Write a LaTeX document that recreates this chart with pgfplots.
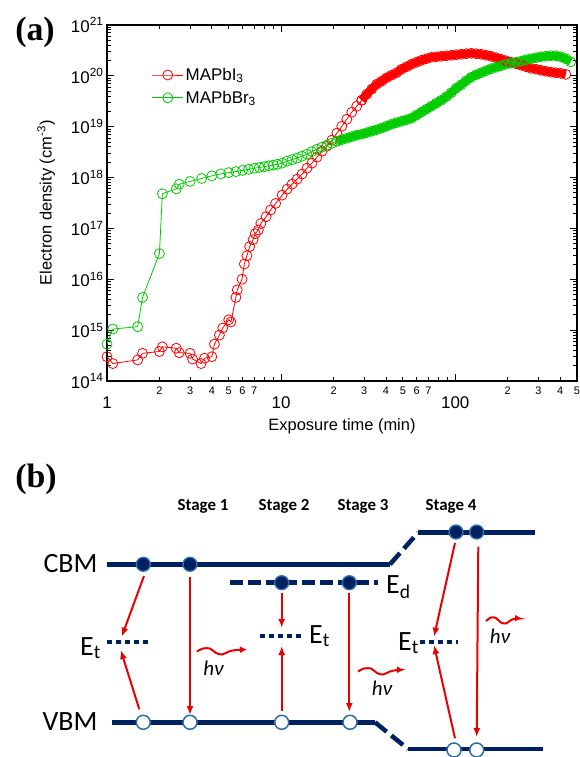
\documentclass[border=0pt]{standalone}
\usepackage{fontspec}
\setmainfont{Liberation Sans}
\newfontfamily\calibri{Carlito}
\newfontfamily\timesf{Liberation Serif}
\usepackage{pgfplots}
\pgfplotsset{compat=1.18}
\usetikzlibrary{arrows.meta}
\definecolor{navy}{RGB}{0,32,96}
\definecolor{cblue}{RGB}{46,117,182}
\definecolor{ored}{RGB}{40,110,170}
\definecolor{arred}{RGB}{235,0,0}
\definecolor{rd}{RGB}{255,0,0}
\definecolor{gr}{RGB}{0,204,0}
\begin{document}
\begin{tikzpicture}
% ---------------- panel (b) and panel labels ----------------
\begin{axis}[at={(0,0)},anchor=south west,scale only axis,width=580bp,height=757bp,
  xmin=0,xmax=580,ymin=0,ymax=757,y dir=reverse,hide axis,clip=false]
\node[font=\timesf\bfseries\fontsize{34}{34}\selectfont] at (axis cs:35,32) {(a)};
\node[font=\timesf\bfseries\fontsize{34}{34}\selectfont] at (axis cs:36,479) {(b)};
% stage labels
\foreach \xx/\lab in {203/1,284/2,363/3,451/4}{
  \edef\tmp{\noexpand\node[font=\noexpand\calibri\noexpand\bfseries\noexpand\fontsize{17}{17}\noexpand\selectfont,anchor=base] at (axis cs:\xx,510) {Stage \lab};}\tmp}
% band lines
\addplot[navy,line width=4.5bp] coordinates {(107,564.3) (390,564.3)};
\addplot[navy,line width=4.5bp,dash pattern=on 15bp off 6bp] coordinates {(390,564.3) (418,532.7)};
\addplot[navy,line width=4.5bp] coordinates {(418,532.7) (535,532.7)};
\addplot[navy,line width=4.5bp] coordinates {(112,722.3) (375,722.3)};
\addplot[navy,line width=4.5bp,dash pattern=on 15bp off 6bp] coordinates {(375,722.3) (408,749)};
\addplot[navy,line width=4.5bp] coordinates {(408,749) (543,749)};
\addplot[navy,line width=4.5bp,dash pattern=on 13bp off 5bp] coordinates {(230,582.7) (378,582.7)};
% trap levels
\addplot[navy,line width=4bp,dash pattern=on 4.5bp off 4.5bp] coordinates {(107,641.7) (152,641.7)};
\addplot[navy,line width=4bp,dash pattern=on 4.5bp off 4.5bp] coordinates {(260,635.7) (302,635.7)};
\addplot[navy,line width=4bp,dash pattern=on 4.5bp off 4.5bp] coordinates {(420,641.7) (458,641.7)};
% labels
\node[font=\calibri\fontsize{28}{28}\selectfont,anchor=east] at (axis cs:101,564) {CBM};
\node[font=\calibri\fontsize{28}{28}\selectfont,anchor=east] at (axis cs:101,722) {VBM};
\node[font=\calibri\fontsize{28}{28}\selectfont,anchor=base east,inner sep=0pt] at (axis cs:101,655) {E\textsubscript{t}};
\node[font=\calibri\fontsize{28}{28}\selectfont,anchor=base west,inner sep=0pt] at (axis cs:309,643) {E\textsubscript{t}};
\node[font=\calibri\fontsize{28}{28}\selectfont,anchor=base east,inner sep=0pt] at (axis cs:419,650) {E\textsubscript{t}};
\node[font=\calibri\fontsize{28}{28}\selectfont,anchor=base west,inner sep=0pt] at (axis cs:386,593) {E\textsubscript{d}};
\node[font=\calibri\itshape\fontsize{21}{21}\selectfont,anchor=base] at (axis cs:213.5,675) {hν};
\node[font=\calibri\itshape\fontsize{21}{21}\selectfont,anchor=base] at (axis cs:382,695) {hν};
\node[font=\calibri\itshape\fontsize{21}{21}\selectfont,anchor=base] at (axis cs:500,643) {hν};
% red transition arrows
\addplot[arred,line width=2bp,-{Latex[length=9bp,width=7bp]}] coordinates {(144,576) (121.7,636.7)};
\addplot[arred,line width=2bp,-{Latex[length=9bp,width=7bp]}] coordinates {(139.3,709.3) (120.7,650)};
\addplot[arred,line width=2bp,-{Latex[length=9bp,width=7bp]}] coordinates {(190,576.7) (190,715)};
\addplot[arred,line width=2bp,-{Latex[length=9bp,width=7bp]}] coordinates {(281.7,593) (281.7,628)};
\addplot[arred,line width=2bp,-{Latex[length=9bp,width=7bp]}] coordinates {(281.7,710.7) (281.7,646)};
\addplot[arred,line width=2bp,-{Latex[length=9bp,width=7bp]}] coordinates {(349.3,593.3) (349.3,712)};
\addplot[arred,line width=2bp,-{Latex[length=9bp,width=7bp]}] coordinates {(455,543) (434,636.7)};
\addplot[arred,line width=2bp,-{Latex[length=9bp,width=7bp]}] coordinates {(455,738.3) (434,645)};
\addplot[arred,line width=2bp,-{Latex[length=9bp,width=7bp]}] coordinates {(478.3,546.7) (476.7,737)};
% photon squiggles
\addplot[arred,line width=2bp,smooth,-{Latex[length=7bp,width=7bp]}] coordinates {(197,651.5) (203,648.5) (210,648.5) (216,653) (222,654.5) (229,651.5) (236,650) (247,649.5)};
\addplot[arred,line width=2bp,smooth,-{Latex[length=7bp,width=7bp]}] coordinates {(358,671.5) (364,668.5) (371,668.5) (377,673) (383,674.5) (390,671.5) (397,670) (404,670)};
\addplot[arred,line width=2bp,smooth,-{Latex[length=7bp,width=7bp]}] coordinates {(486,621) (491,617.5) (496,618) (501,622.5) (506,623.5) (511,620) (516,618.5) (522,618.5)};
% carriers
\addplot[only marks,mark=*,mark size=7bp,mark options={fill=navy,draw=cblue,line width=1.3bp}] coordinates {(143.3,564.3) (190,564.3) (281.7,582.7) (349.3,582.7) (456,532) (476.7,532)};
\addplot[only marks,mark=*,mark size=7bp,mark options={fill=white,draw=ored,line width=1.5bp}] coordinates {(143.3,722.3) (190,722.3) (281.7,722.3) (350,722.3) (454,750) (476.7,750)};
\end{axis}
% ---------------- panel (a) ----------------
\begin{axis}[at={(107bp,376bp)},anchor=south west,scale only axis,width=470bp,height=356bp,
  xmode=log,ymode=log,xmin=1,xmax=500,ymin=1e14,ymax=1e21,
  axis line style={line width=1.2bp},
  every tick/.style={black,line width=0.9bp},
  major tick length=7bp,minor tick length=4bp,
  xtick pos=both,ytick pos=both,
  xtick={1,10,100},xticklabels={1,10,100},
  minor xtick={2,3,4,5,6,7,8,9,20,30,40,50,60,70,80,90,200,300,400},
  ytick={1e14,1e15,1e16,1e17,1e18,1e19,1e20,1e21},
  yticklabels={10\textsuperscript{14},10\textsuperscript{15},10\textsuperscript{16},10\textsuperscript{17},10\textsuperscript{18},10\textsuperscript{19},10\textsuperscript{20},10\textsuperscript{21}},
  minor ytick={2e14,3e14,4e14,5e14,6e14,7e14,8e14,9e14,2e15,3e15,4e15,5e15,6e15,7e15,8e15,9e15,2e16,3e16,4e16,5e16,6e16,7e16,8e16,9e16,2e17,3e17,4e17,5e17,6e17,7e17,8e17,9e17,2e18,3e18,4e18,5e18,6e18,7e18,8e18,9e18,2e19,3e19,4e19,5e19,6e19,7e19,8e19,9e19,2e20,3e20,4e20,5e20,6e20,7e20,8e20,9e20},
  xticklabel style={font=\fontsize{17}{17}\selectfont,yshift=-12bp},
  yticklabel style={font=\fontsize{17}{17}\selectfont},
  extra x ticks={2,3,4,5,6,7,20,30,40,50,60,70,200,300,400,500},
  extra x tick labels={2,3,4,5,6,7,2,3,4,5,6,7,2,3,4,5},
  extra x tick style={major tick length=0pt,xticklabel style={font=\fontsize{11}{11}\selectfont,yshift=10bp}},
  xlabel={Exposure time (min)},
  ylabel={Electron density (cm\textsuperscript{-3})},
  xlabel shift=3bp, ylabel shift=9bp,
  label style={font=\fontsize{16.5}{17}\selectfont},
  legend style={at={(0.095,0.885)},anchor=north west,draw=none,fill=none,font=\fontsize{17}{20}\selectfont,row sep=5bp,inner sep=0pt},
  legend cell align=left,
  legend image code/.code={\draw[mark repeat=2,mark phase=2,#1] plot coordinates {(0bp,0bp) (15.5bp,0bp) (31bp,0bp)};},
]
\addplot[rd,line width=0.8bp,mark=o,mark size=5bp,mark options={line width=0.8bp,solid}] coordinates {
(1.00,3.0e14) (1.08,2.2e14) (1.50,2.6e14) (1.60,3.5e14) (2.00,3.8e14) (2.08,4.7e14) (2.50,4.4e14) (2.60,3.6e14)
(3.00,3.5e14) (3.10,2.7e14) (3.47,2.2e14) (3.63,2.8e14) (4.00,3.0e14) (4.14,5.3e14) (4.42,8.0e14) (4.62,1.1e15)
(5.00,1.6e15) (5.15,1.45e15) (5.50,4.4e15) (5.60,6.2e15) (5.96,1.0e16) (6.15,2.0e16) (6.36,2.9e16) (6.60,4.4e16)
(6.90,6.0e16) (7.10,7.9e16) (7.40,9.3e16) (7.65,1.25e17) (8.20,1.7e17) (8.70,2.3e17) (9.30,3.1e17)
(10.13,4.51e17) (10.82,5.92e17) (11.56,7.42e17) (12.35,9.30e17) (13.18,1.17e18) (14.08,1.53e18) (15.04,1.92e18)
(16.06,2.52e18) (17.15,3.30e18) (18.32,4.14e18) (19.56,5.43e18) (20.89,7.45e18) (22.31,1.02e19) (23.83,1.40e19)
(25.45,1.93e19) (27.18,2.53e19) (29.03,3.32e19)};
\addlegendentry{MAPbI\textsubscript{3}}
\addplot[gr,line width=0.8bp,mark=o,mark size=5bp,mark options={line width=0.8bp,solid}] coordinates {
(1.00,5.3e14) (1.08,1.05e15) (1.50,1.17e15) (1.60,4.4e15) (2.00,3.2e16) (2.08,4.8e17) (2.50,6.0e17) (2.60,7.4e17)
(3.00,8.4e17) (3.50,9.6e17) (4.00,1.08e18) (4.50,1.18e18) (5.00,1.25e18) (5.50,1.31e18) (6.00,1.38e18) (6.50,1.45e18)
(7.00,1.52e18) (7.50,1.58e18) (8.00,1.64e18) (8.50,1.70e18) (9.00,1.76e18) (9.50,1.82e18)
(10.13,1.92e18) (10.82,2.10e18) (11.56,2.25e18) (12.35,2.41e18) (13.18,2.63e18) (14.08,2.88e18) (15.04,3.23e18)
(16.06,3.61e18) (17.15,3.96e18) (18.32,4.33e18) (19.56,4.74e18) (20.89,5.19e18)};
\addlegendentry{MAPbBr\textsubscript{3}}
\addplot[rd,line width=8bp,mark=o,mark size=5bp,mark options={line width=0.8bp,solid},forget plot] coordinates {
(29.03,3.32e19) (31.00,4.35e19) (33.11,5.46e19) (35.36,6.84e19) (37.77,7.83e19) (40.33,9.18e19) (43.08,1.03e20)
(46.00,1.15e20) (49.13,1.35e20) (52.48,1.51e20) (56.04,1.69e20) (59.85,1.85e20) (63.92,2.02e20) (68.27,2.17e20)
(72.91,2.32e20) (77.87,2.37e20) (83.18,2.43e20) (88.83,2.48e20) (94.87,2.54e20) (101.3,2.60e20) (108.2,2.66e20)
(115.6,2.72e20) (123.4,2.78e20) (131.8,2.72e20) (140.8,2.66e20) (150.4,2.54e20) (160.6,2.43e20) (171.5,2.27e20)
(183.2,2.12e20) (195.6,1.98e20) (208.9,1.85e20) (223.1,1.73e20) (238.3,1.62e20) (254.5,1.51e20) (271.8,1.41e20)
(290.3,1.35e20) (310.0,1.29e20) (331.1,1.23e20) (353.6,1.18e20) (377.7,1.15e20) (403.3,1.12e20) (430.8,1.07e20)};
\addplot[gr,line width=8bp,mark=o,mark size=5bp,mark options={line width=0.8bp,solid},forget plot] coordinates {
(20.89,5.19e18) (22.31,5.56e18) (23.83,5.94e18) (25.45,6.37e18) (27.18,6.81e18) (29.03,7.13e18) (31.00,7.62e18)
(33.11,8.16e18) (35.36,8.73e18) (37.77,9.35e18) (40.33,1.02e19) (43.08,1.12e19) (46.00,1.20e19) (49.13,1.28e19)
(52.48,1.37e19) (56.04,1.47e19) (59.85,1.68e19) (63.92,1.93e19) (68.27,2.21e19) (72.91,2.53e19) (77.87,2.90e19)
(83.18,3.32e19) (88.83,3.88e19) (94.87,4.66e19) (101.3,5.71e19) (108.2,6.68e19) (115.6,8.01e19) (123.4,9.38e19)
(131.8,1.05e20) (140.8,1.15e20) (150.4,1.26e20) (160.6,1.38e20) (171.5,1.48e20) (183.2,1.58e20) (195.6,1.69e20)
(208.9,1.77e20) (223.1,1.85e20) (238.3,1.94e20) (254.5,2.07e20) (271.8,2.17e20) (290.3,2.27e20) (310.0,2.37e20)
(331.1,2.43e20) (353.6,2.48e20) (377.7,2.48e20) (403.3,2.37e20) (430.8,2.17e20) (460.0,1.89e20)};
\end{axis}
\pgfresetboundingbox
\path (0,0) rectangle (580bp,757bp);
\end{tikzpicture}
\end{document}
